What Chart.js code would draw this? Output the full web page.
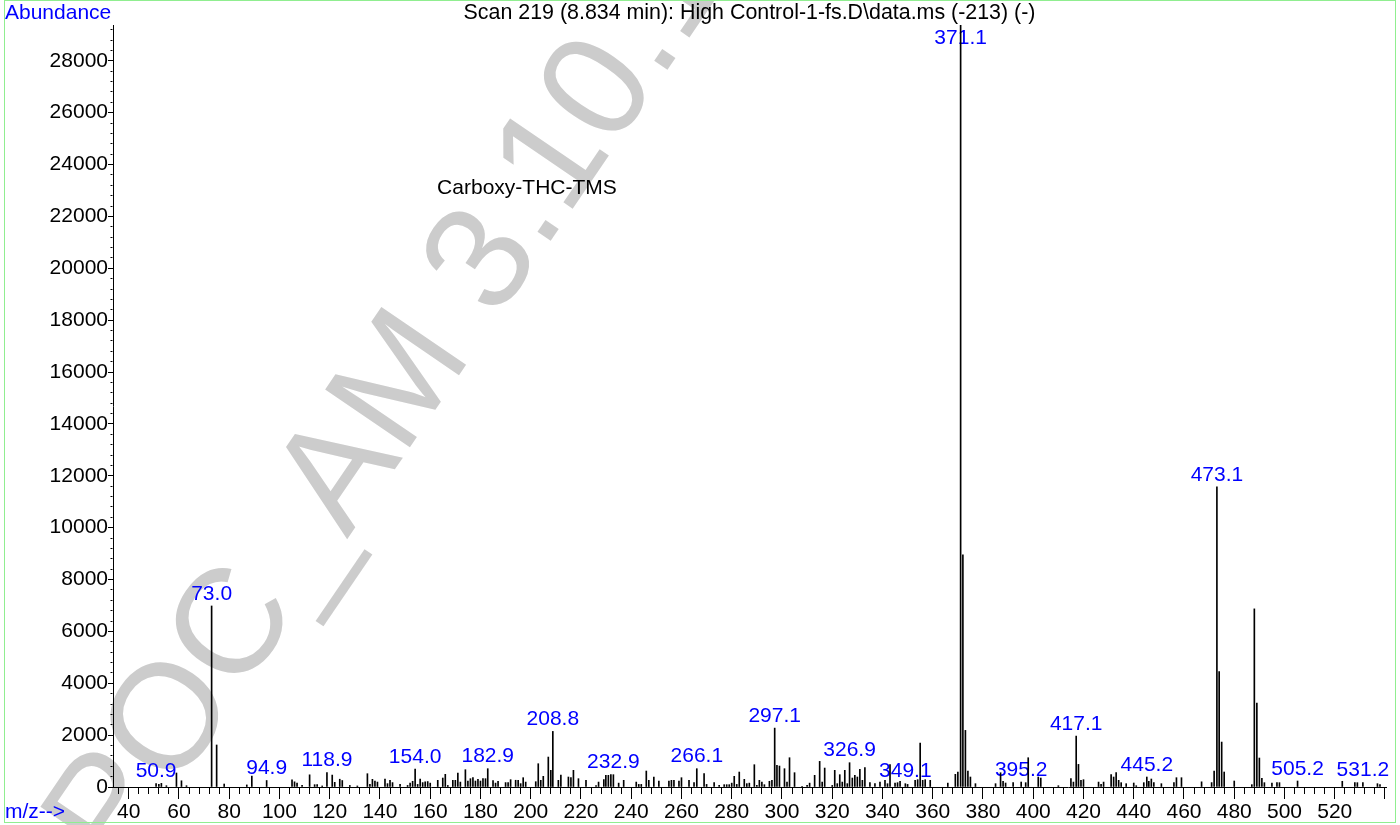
<!DOCTYPE html>
<html>
<head>
<meta charset="utf-8">
<script src="https://cdn.jsdelivr.net/npm/chart.js@4.4.1/dist/chart.umd.min.js"></script>
<style>
  html, body { margin: 0; padding: 0; background: #ffffff; }
  #wrap { width: 1400px; height: 825px; }
</style>
</head>
<body>
<div id="wrap"><canvas id="c" width="1400" height="825"></canvas></div>
<script>
// ---------- texts ----------
const titleText = 'Scan 219 (8.834 min): High Control-1-fs.D\\data.ms (-213) (-)';
const yAxisName = 'Abundance';
const xAxisName = 'm/z-->';
const compoundName = 'Carboxy-THC-TMS';
const watermarkText = 'POC_AM 3.10.1';

// ---------- data ----------
const mz = [
  50.9, 52, 53, 55, 59, 61, 63, 73.0, 75, 78, 87, 89, 94.9,
  105, 106, 107, 109, 112, 114, 115, 117, 118.9, 121, 122, 124, 125, 128, 131,
  135, 136, 137, 138, 139, 142, 143, 144, 145, 148, 151, 152, 153, 154.0, 155, 156, 157, 158, 159, 160,
  163, 165, 166, 167, 169, 170, 171, 172, 174, 175, 176, 177, 178, 179, 180, 181, 182, 182.9,
  185, 186, 187, 190, 191, 192, 194, 195, 196, 197, 198,
  202, 203, 204, 205, 207, 208, 208.8, 211, 212, 215, 216, 217, 219, 222, 226, 227,
  229.1, 229.9, 230.9, 231.9, 232.9, 235, 237, 242, 243, 244, 246, 247, 249,
  251, 255, 256, 257, 259, 260, 263, 265, 266.1, 269, 270, 273, 275, 277, 278, 279,
  280, 281, 282, 283, 285, 286, 287, 289, 290, 291, 292, 293, 295, 296, 297.1, 298, 299,
  301, 302, 303, 305, 308, 310, 311, 313, 315, 316, 317, 320, 321, 322, 323, 324, 325, 326, 326.9,
  328, 329, 330, 331, 332, 333, 335, 337, 339, 341, 342, 343, 345, 346, 347, 349.1,
  350, 353, 354, 355, 356, 357, 359, 366, 369, 370, 371.1, 372, 373, 374, 375, 377,
  385, 387, 388, 389, 392, 395.2, 397, 398, 402, 403, 410,
  415, 416, 417.1, 418, 419, 420, 426, 427, 428, 431, 432, 433, 434, 435, 437,
  440, 441, 444, 445.2, 446, 447, 448, 451, 456, 457, 459,
  467, 471, 472, 473.1, 474, 475, 476, 480, 487, 488, 489, 490, 491, 492, 495, 497, 498,
  505.2, 523, 528, 529, 531.2, 537, 538
];
const abundance = [
  130, 100, 140, 50, 540, 240, 50, 6980, 1620, 115, 80, 420, 250,
  280, 200, 150, 60, 470, 90, 90, 40, 560, 460, 180, 300, 250, 60, 40,
  513, 103, 295, 231, 190, 308, 130, 257, 170, 100, 60, 150, 220, 693, 100, 308, 170, 200, 210, 150,
  257, 346, 488, 60, 257, 257, 539, 190, 667, 230, 321, 359, 230, 295, 230, 321, 321, 706,
  250, 150, 220, 170, 170, 282, 260, 260, 130, 359, 190,
  205, 898, 257, 411, 1155, 642, 2143, 257, 462, 385, 360, 642, 321, 257, 50, 190,
  282, 449, 449, 475, 475, 150, 257, 190, 100, 100, 616, 257, 385,
  230, 230, 257, 257, 230, 359, 257, 170, 706, 513, 100, 170, 60, 90, 90, 90,
  150, 411, 100, 577, 295, 130, 150, 860, 60, 257, 190, 90, 220, 257, 2271, 834, 808,
  706, 190, 1129, 552, 30, 60, 150, 449, 988, 190, 731, 60, 642, 130, 475, 190, 642, 130, 937,
  346, 449, 385, 680, 257, 744, 167, 128, 190, 257, 128, 860, 150, 167, 218, 128,
  100, 257, 282, 1694, 257, 282, 257, 150, 489, 578, 29380, 8947, 2183, 616, 385, 128,
  128, 550, 218, 154, 167, 192, 167, 1129, 385, 346, 50,
  321, 190, 1963, 872, 257, 282, 190, 100, 190, 475, 385, 552, 257, 167, 128,
  154, 50, 167, 385, 218, 308, 167, 128, 167, 359, 359,
  200, 170, 616, 11577, 4454, 1733, 578, 231, 90, 6868, 3234, 1117, 330, 167, 150, 167, 167,
  231, 220, 167, 167, 167, 128, 90
];
const labeledPeaks = [50.9, 73.0, 94.9, 118.9, 154.0, 182.9, 208.8, 232.9, 266.1, 297.1,
                      326.9, 349.1, 371.1, 395.2, 417.1, 445.2, 473.1, 505.2, 531.2];
const xTickLabels = [40, 60, 80, 100, 120, 140, 160, 180, 200, 220, 240, 260, 280, 300,
                     320, 340, 360, 380, 400, 420, 440, 460, 480, 500, 520];
const yTickLabels = [0, 2000, 4000, 6000, 8000, 10000, 12000, 14000, 16000, 18000,
                     20000, 22000, 24000, 26000, 28000];
const xRange = [33.75, 540.4];
const yRange = [0, 29380];
const compoundAt = [198.5, 23070];   // m/z, abundance where the compound name sits

// ---------- styles ----------
const FONT = '"Liberation Sans", Arial, Helvetica, sans-serif';
const BLUE = '#0000ff';
const isYLabel = v => yTickLabels.indexOf(Math.round(v)) >= 0 && Math.abs(v - Math.round(v)) < 1e-6;
const isXLabel = v => xTickLabels.indexOf(Math.round(v)) >= 0 && Math.abs(v - Math.round(v)) < 1e-6;

const points = mz.map((m, i) => ({ x: m, y: abundance[i] }));

const backgroundPlugin = {
  id: 'bg',
  beforeDraw(chart) {
    const ctx = chart.ctx;
    ctx.save();
    ctx.fillStyle = '#ffffff';
    ctx.fillRect(0, 0, chart.width, chart.height);
    // watermark
    ctx.translate(118.3, 874.6);
    ctx.rotate(-55.7 * Math.PI / 180);
    ctx.fillStyle = '#cccccc';
    ctx.font = '149px ' + FONT;
    ctx.textAlign = 'left';
    ctx.textBaseline = 'alphabetic';
    ctx.fillText(watermarkText, 0, 0);
    ctx.restore();
  }
};

const labelPlugin = {
  id: 'peakLabels',
  beforeDatasetsDraw(chart) {
    const ctx = chart.ctx;
    const xs = chart.scales.x, ys = chart.scales.y, area = chart.chartArea;
    ctx.save();
    ctx.font = '21px ' + FONT;
    ctx.fillStyle = BLUE;
    ctx.textAlign = 'center';
    ctx.textBaseline = 'middle';
    labeledPeaks.forEach(p => {
      const i = mz.indexOf(p);
      const xp = xs.getPixelForValue(p);
      const yp = ys.getPixelForValue(abundance[i]);
      const yc = Math.max(yp - 12, area.top + 13);
      ctx.fillText(p.toFixed(1), xp, yc);
    });
    // compound name
    ctx.fillStyle = '#000000';
    ctx.font = '21px ' + FONT;
    ctx.fillText(compoundName, xs.getPixelForValue(compoundAt[0]), ys.getPixelForValue(compoundAt[1]));
    ctx.restore();
  },
  afterDraw(chart) {
    const ctx = chart.ctx;
    const area = chart.chartArea;
    ctx.save();
    ctx.font = '21px ' + FONT;
    ctx.textBaseline = 'middle';
    ctx.fillStyle = BLUE;
    ctx.textAlign = 'left';
    ctx.fillText(yAxisName, 5, 13);
    ctx.fillText(xAxisName, 5, 812);
    ctx.fillStyle = '#000000';
    ctx.textAlign = 'center';
    ctx.font = '21.4px ' + FONT;
    ctx.fillText(titleText, (area.left + area.right) / 2, 13);
    ctx.strokeStyle = '#90ee90';
    ctx.lineWidth = 1;
    ctx.strokeRect(4.5, 0.5, 1391, 822);
    ctx.restore();
  }
};

new Chart(document.getElementById('c').getContext('2d'), {
  type: 'bar',
  data: {
    datasets: [{
      data: points,
      backgroundColor: '#000000',
      borderWidth: 0,
      barThickness: 1,
      grouped: false
    }]
  },
  options: {
    responsive: false,
    animation: false,
    devicePixelRatio: 1,
    events: [],
    layout: { padding: { left: 0, right: 14, top: 25, bottom: 0 } },
    plugins: { legend: { display: false }, tooltip: { enabled: false }, title: { display: false } },
    scales: {
      x: {
        type: 'linear',
        min: xRange[0],
        max: xRange[1],
        offset: false,
        grid: {
          display: true,
          drawOnChartArea: false,
          drawTicks: true,
          offset: false,
          tickLength: 12,
          tickColor: '#000000',
          tickWidth: 1,
          tickBorderDash: c => (c.tick && Math.round(c.tick.value) % 20 === 0) ? [] : [6, 60]
        },
        border: { display: true, color: '#000000', width: 1 },
        ticks: {
          stepSize: 4,
          includeBounds: false,
          autoSkip: false,
          minRotation: 0,
          maxRotation: 0,
          padding: 1,
          color: '#000000',
          font: { family: FONT, size: 21 },
          callback: v => isXLabel(v) ? String(Math.round(v)) : ''
        },
        afterFit: s => { s.height = 38; }
      },
      y: {
        type: 'linear',
        min: yRange[0],
        max: yRange[1],
        grid: {
          display: true,
          drawOnChartArea: false,
          drawTicks: true,
          tickLength: 5,
          tickColor: '#000000',
          tickWidth: 1,
          tickBorderDash: c => (c.tick && Math.round(c.tick.value) % 2000 === 0) ? [] : [2, 2.5],
          tickBorderDashOffset: c => (c.tick && Math.round(c.tick.value) % 2000 === 0) ? 0 : 2
        },
        border: { display: true, color: '#000000', width: 1 },
        ticks: {
          stepSize: 400,
          includeBounds: false,
          autoSkip: false,
          padding: 0,
          color: '#000000',
          font: { family: FONT, size: 21 },
          callback: v => isYLabel(v) ? String(Math.round(v)) : ''
        },
        afterFit: s => { s.width = 113; }
      }
    }
  },
  plugins: [backgroundPlugin, labelPlugin]
});
</script>
</body>
</html>
